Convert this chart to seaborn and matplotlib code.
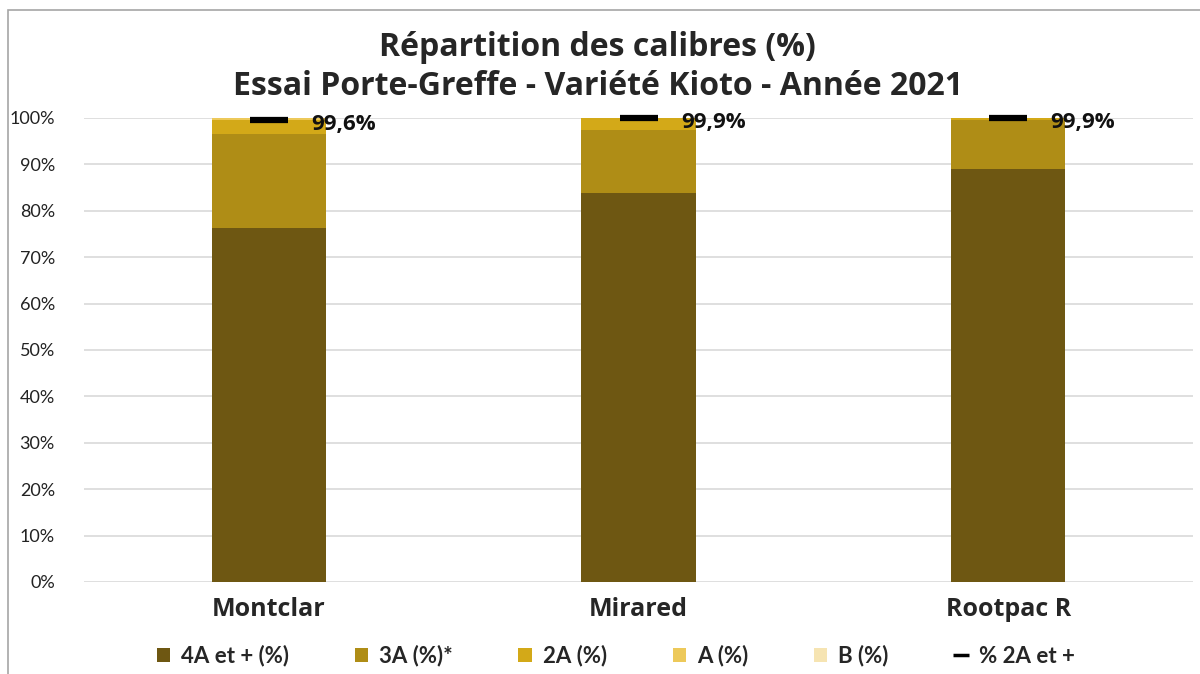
import numpy as np
import pandas as pd
import matplotlib
matplotlib.use("Agg")
import matplotlib.pyplot as plt
from matplotlib.lines import Line2D
from matplotlib.patches import Patch, Rectangle
import seaborn as sns

# data
porte_greffes = ["Montclar", "Mirared", "Rootpac R"]
calibres = ["4A et + (%)", "3A (%)*", "2A (%)", "A (%)", "B (%)"]
cal_4a = [76.3, 83.8, 89.0]
cal_3a = [20.3, 13.7, 10.6]
cal_2a = [3.0, 2.4, 0.3]
cal_a = [0.4, 0.1, 0.1]
cal_b = [0.0, 0.0, 0.0]
pct_2a_plus = [99.6, 99.9, 99.9]
labels_2a_plus = ["99,6%", "99,9%", "99,9%"]

colors = ["#6E5712", "#AF8D16", "#D3A918", "#EDC95A", "#F6E4B2"]

sns.set_style("white")
plt.rcParams["font.family"] = ["Lato", "DejaVu Sans"]
bold = ["Open Sans", "DejaVu Sans"]

df = pd.DataFrame({"pg": porte_greffes, "4A": cal_4a, "3A": cal_3a,
                   "2A": cal_2a, "A": cal_a, "B": cal_b})
layers = ["4A", "3A", "2A", "A", "B"]
cum = df[layers].cumsum(axis=1) / 100

fig = plt.figure(figsize=(12, 6.74), dpi=100)
ax = fig.add_axes([84 / 1200, 1 - 582 / 674, (1193 - 84) / 1200, (582 - 118) / 674])

# stacked bars: draw cumulative tops from the last layer down
for lay, col in reversed(list(zip(layers, colors))):
    sns.barplot(x=df["pg"], y=cum[lay], color=col, width=0.31, ax=ax,
                saturation=1, edgecolor="none")

ax.plot(range(3), np.array(pct_2a_plus) / 100, linestyle="none", marker="_",
        color="black", markersize=27, markeredgewidth=4.5, clip_on=False, zorder=5)
for i, (v, t) in enumerate(zip(pct_2a_plus, labels_2a_plus)):
    ax.text(i + 0.115, v / 100 - 0.009, t, fontsize=16, fontweight="bold",
            family=bold, color="#111111", va="center", ha="left",
            clip_on=False, zorder=6)

ax.set_ylim(0, 1)
ax.set_xlim(-0.5, 2.5)
ax.set_yticks(np.arange(0, 1.01, 0.1))
ax.set_yticklabels([f"{int(round(t * 100))}%" for t in np.arange(0, 1.01, 0.1)],
                   fontsize=13, color="#222222")
ax.set_xticks(range(3))
ax.set_xticklabels(porte_greffes, fontsize=18, fontweight="bold", family=bold)
ax.tick_params(axis="y", length=0, pad=21)
ax.tick_params(axis="x", length=0, pad=11)
ax.set_xlabel("")
ax.set_ylabel("")
ax.grid(axis="y", color="#D9D9D9", linewidth=1.2)
ax.set_axisbelow(True)
for s in ax.spines.values():
    s.set_visible(False)

fig.text(0.498, 0.929, "Répartition des calibres (%)", ha="center", va="center",
         fontsize=23, fontweight="bold", family=bold)
fig.text(0.498, 0.872, "Essai Porte-Greffe - Variété Kioto - Année 2021",
         ha="center", va="center", fontsize=23, fontweight="bold", family=bold)

handles = [Patch(facecolor=c, edgecolor="none") for c in colors]
handles.append(Line2D([], [], color="black", marker="_", linestyle="none",
                      markersize=11, markeredgewidth=2.5))
leg = fig.legend(handles, calibres + ["% 2A et +"], loc="center",
                 bbox_to_anchor=(0.513, 0.027), ncol=6, frameon=False,
                 fontsize=16, handlelength=0.6, handleheight=0.6,
                 handletextpad=0.5, columnspacing=2.95)
for t in leg.get_texts():
    t.set_fontweight("bold")

fig.patches.append(Rectangle((8 / 1200, -0.1), 1.2, 1 - 10 / 674 + 0.1,
                             transform=fig.transFigure, fill=False,
                             edgecolor="#A6A6A6", linewidth=1.2))

fig.savefig("out.png", dpi=100)
